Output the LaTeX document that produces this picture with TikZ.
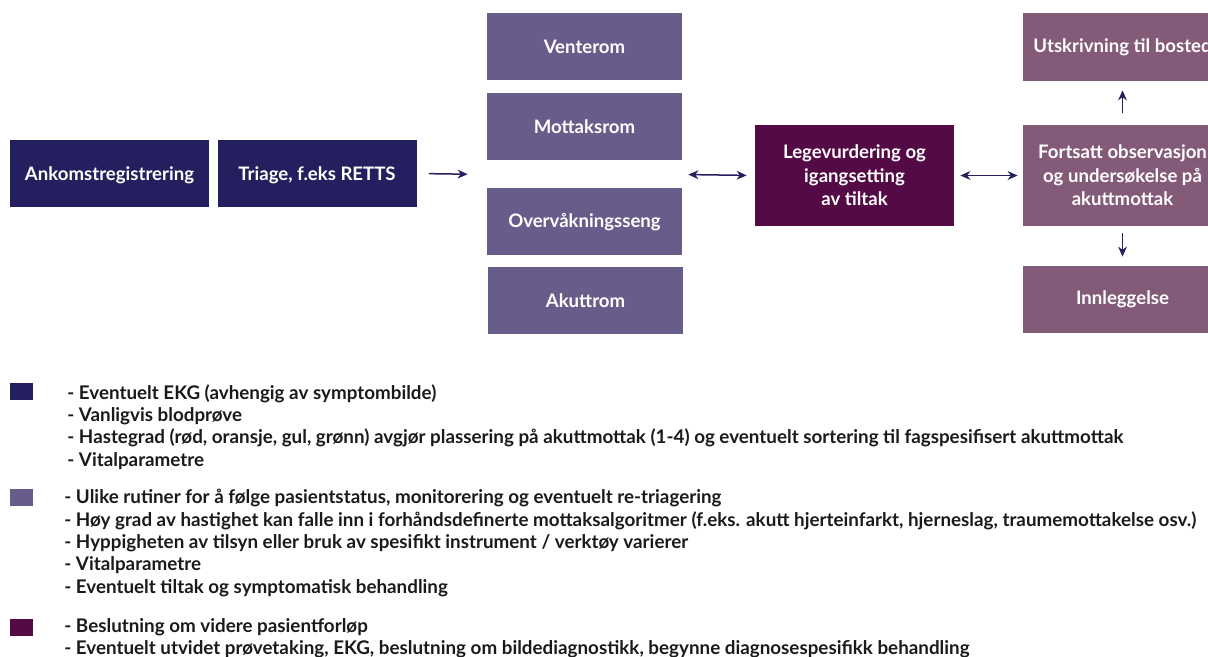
\documentclass[tikz,border=0pt]{standalone}
\usepackage{fontspec}
\setmainfont{Lato}
\usepackage{tikz}
\usetikzlibrary{arrows.meta,positioning,calc}
\definecolor{navyblue}{RGB}{36, 31, 94}
\definecolor{roomviolet}{RGB}{104, 93, 138}
\definecolor{doctorplum}{RGB}{84, 10, 68}
\definecolor{outmauve}{RGB}{131, 90, 119}
\definecolor{legendtext}{RGB}{26, 26, 30}

\begin{document}
\begin{tikzpicture}[x=0.5pt, y=-0.5pt,
  stepbox/.style={rectangle, text=white, font=\fontsize{9.3}{11.75}\selectfont\bfseries, align=center, inner sep=0pt, minimum width=99.5pt, minimum height=33.5pt},
  roombox/.style={stepbox, fill=roomviolet, minimum width=97.5pt},
  swatch/.style={rectangle, inner sep=0pt, minimum width=11.5pt, minimum height=8.5pt, anchor=north west},
  legend/.style={anchor=north west, inner sep=0pt, align=left, text=legendtext, font=\fontsize{9.4}{11.2}\selectfont\bfseries},
  arr/.style={draw=navyblue, line width=0.75pt, -{Stealth[length=5pt, width=4.4pt]}},
  darr/.style={draw=navyblue, line width=0.75pt, {Stealth[length=5pt, width=4.4pt]}-{Stealth[length=5pt, width=4.4pt]}}
]
\useasboundingbox (0, 0) rectangle (1208, 657);
\clip (0, 0) rectangle (1208, 657);

% Arrival and triage
\node[stepbox, fill=navyblue, text depth=0pt] (ankomst) at (109.5, 173.5) {Ankomstregistrering};
\node[stepbox, fill=navyblue, text depth=0pt] (triage) at (317, 173.5) {Triage, f.eks RETTS};

% Placement in the emergency department
\node[roombox] (venterom) at (584.5, 46.5) {Venterom};
\node[roombox] (mottak) at (584.5, 127) {Mottaksrom};
\node[roombox] (overvak) at (584.5, 222) {Overvåkningsseng};
\node[roombox] (akutt) at (585.5, 300.5) {Akuttrom};
\coordinate (roomin) at ($(mottak.south west)!0.5!(overvak.north west)$);
\coordinate (roomout) at ($(mottak.south east)!0.5!(overvak.north east)$);

% Doctor and further course
\node[stepbox, fill=doctorplum, minimum height=50.5pt] (lege) at (854.5, 175.5) {Legevurdering og\\igangsetting\\av tiltak};
\node[stepbox, fill=outmauve, minimum height=50.5pt] (fortsatt) at (1122.5, 175.5) {Fortsatt observasjon\\og undersøkelse på\\akuttmottak};
\node[stepbox, fill=outmauve, minimum height=34pt] (utskriv) at (1122.5, 47) {Utskrivning til bosted};
\node[stepbox, fill=outmauve] (innlegg) at (1122.5, 299.5) {Innleggelse};

% Arrows
\draw[arr, shorten <=6pt, shorten >=9.5pt] (triage.east) -- (roomin);
\draw[darr, shorten <=3pt, shorten >=4pt] (roomout) -- (lege.west);
\draw[darr, shorten <=3pt, shorten >=2.5pt] (lege.east) -- (fortsatt.west);
\draw[arr, shorten <=6pt, shorten >=4.5pt] (fortsatt.north) -- (utskriv.south);
\draw[arr, shorten <=3.5pt, shorten >=4.5pt] (fortsatt.south) -- (innlegg.north);

% Legend
\node[swatch, fill=navyblue] (keynavy) at (10, 383) {};
\node[legend] (textnavy) at (67, 384) {- Eventuelt EKG (avhengig av symptombilde)\\- Vanligvis blodprøve\\- Hastegrad (rød, oransje, gul, grønn) avgjør plassering på akuttmottak (1-4) og eventuelt sortering til fagspesifisert akuttmottak\\- Vitalparametre};
\node[swatch, fill=roomviolet] (keyviolet) at (10, 489) {};
\node[legend] (textviolet) at (64, 489) {- Ulike rutiner for å følge pasientstatus, monitorering og eventuelt re-triagering\\- Høy grad av hastighet kan falle inn i forhåndsdefinerte mottaksalgoritmer (f.eks. akutt hjerteinfarkt, hjerneslag, traumemottakelse osv.)\\- Hyppigheten av tilsyn eller bruk av spesifikt instrument / verktøy varierer\\- Vitalparametre\\- Eventuelt tiltak og symptomatisk behandling};
\node[swatch, fill=doctorplum] (keyplum) at (10, 619) {};
\node[legend] (textplum) at (64, 618) {- Beslutning om videre pasientforløp\\- Eventuelt utvidet prøvetaking, EKG, beslutning om bildediagnostikk, begynne diagnosespesifikk behandling};

\end{tikzpicture}
\end{document}
